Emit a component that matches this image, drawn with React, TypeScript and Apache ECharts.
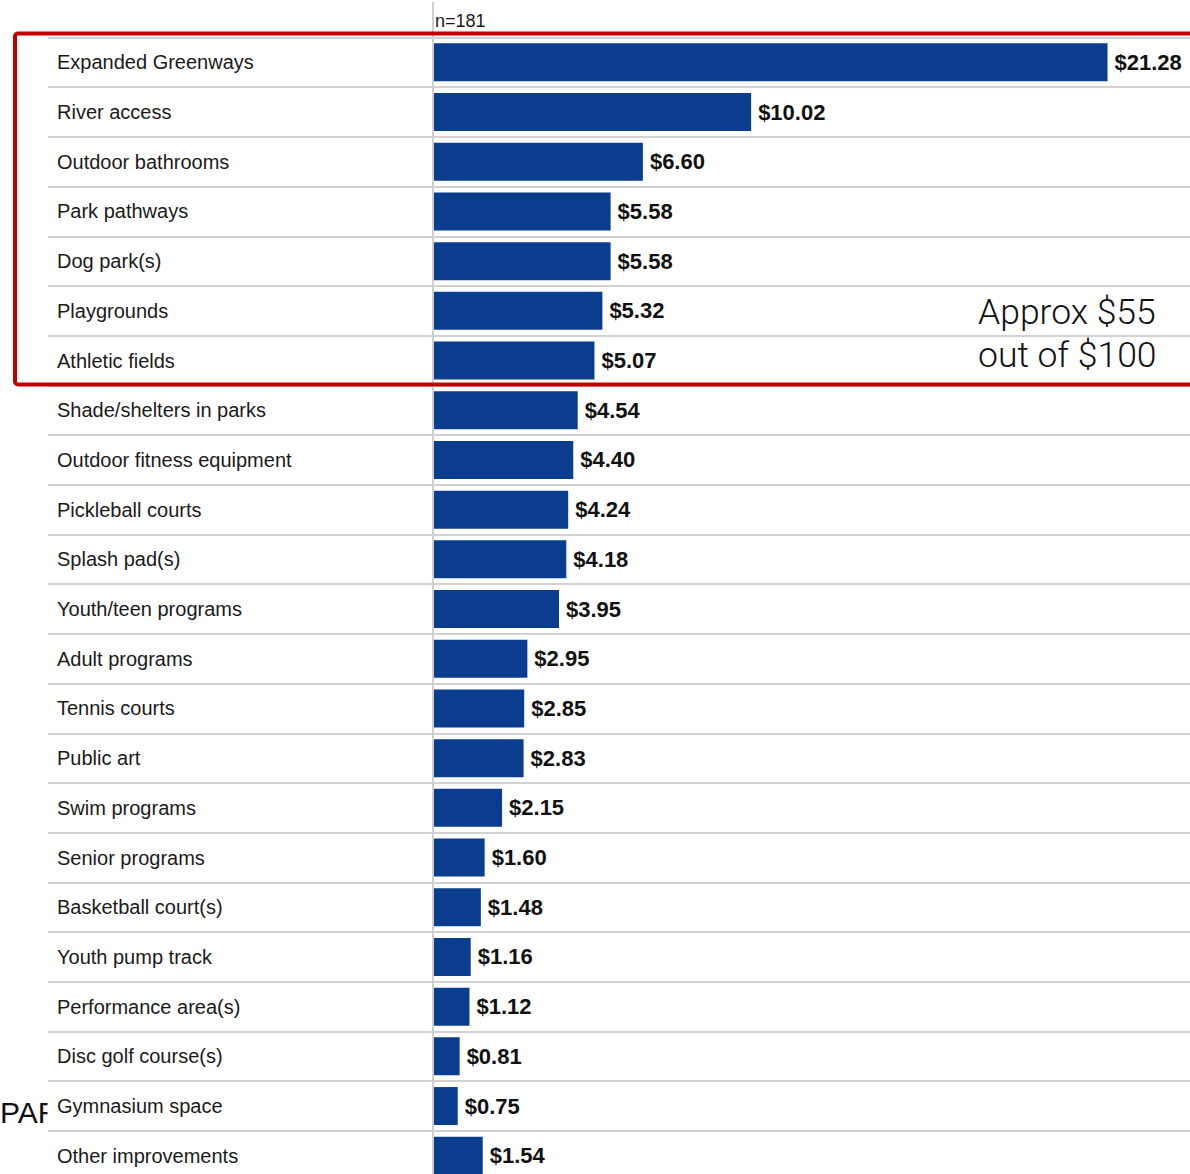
import React, { useEffect, useRef } from "react";
import * as echarts from "echarts";

const categories = [
  "Expanded Greenways",
  "River access",
  "Outdoor bathrooms",
  "Park pathways",
  "Dog park(s)",
  "Playgrounds",
  "Athletic fields",
  "Shade/shelters in parks",
  "Outdoor fitness equipment",
  "Pickleball courts",
  "Splash pad(s)",
  "Youth/teen programs",
  "Adult programs",
  "Tennis courts",
  "Public art",
  "Swim programs",
  "Senior programs",
  "Basketball court(s)",
  "Youth pump track",
  "Performance area(s)",
  "Disc golf course(s)",
  "Gymnasium space",
  "Other improvements",
];

const values = [
  21.28, 10.02, 6.6, 5.58, 5.58, 5.32, 5.07, 4.54, 4.4, 4.24, 4.18, 3.95, 2.95,
  2.85, 2.83, 2.15, 1.6, 1.48, 1.16, 1.12, 0.81, 0.75, 1.54,
];

const sampleNote = "n=181";
const calloutLines = ["Approx $55", "out of $100"];

export default function App() {
  const ref = useRef<HTMLDivElement>(null);

  useEffect(() => {
    if (!ref.current) return;
    const chart = echarts.init(ref.current, undefined, { renderer: "svg" });
    const font = "'Liberation Sans', Arial, Helvetica, sans-serif";
    const rowH = 49.7;
    const gridTop = 37.5;
    const sepColor = "#d2d2d2";
    chart.setOption({
      animation: false,
      backgroundColor: "#ffffff",
      grid: {
        left: 434,
        top: gridTop,
        width: 759.6,
        height: rowH * categories.length,
        containLabel: false,
      },
      xAxis: {
        type: "value",
        min: 0,
        max: 24,
        show: false,
        splitLine: { show: false },
      },
      yAxis: {
        type: "category",
        inverse: true,
        z: 20,
        data: categories,
        axisLine: { show: false },
        axisTick: {
          show: true,
          length: 386,
          interval: 0,
          lineStyle: { color: sepColor, width: 2 },
        },
        splitLine: {
          show: true,
          interval: 0,
          lineStyle: { color: sepColor, width: 2 },
        },
        axisLabel: {
          interval: 0,
          align: "left",
          margin: 377,
          fontSize: 20,
          color: "#1a1a1a",
          fontFamily: font,
        },
      },
      series: [
        {
          type: "bar",
          data: values,
          barWidth: 38,
          itemStyle: { color: "#0b3d8f" },
          label: {
            show: true,
            position: "right",
            distance: 7,
            formatter: (p: any) => "$" + Number(p.value).toFixed(2),
            fontSize: 22,
            fontWeight: "bold",
            color: "#111111",
            fontFamily: font,
          },
        },
      ],
      graphic: [
        {
          type: "line",
          z: 50,
          shape: { x1: 433, y1: 2, x2: 433, y2: 1200 },
          style: { stroke: "#cfcfcf", lineWidth: 2 },
        },
        {
          type: "text",
          z: 50,
          x: 435,
          y: 21,
          style: {
            text: sampleNote,
            fontSize: 18,
            fontFamily: font,
            fill: "#1a1a1a",
            verticalAlign: "middle",
            align: "left",
          },
        },
        {
          type: "rect",
          z: 100,
          shape: { x: 15, y: 33.5, width: 1200, height: 351, r: 3 },
          style: { fill: "transparent", stroke: "#c00000", lineWidth: 4 },
        },
        {
          type: "text",
          z: 100,
          x: 978,
          y: 312,
          style: {
            text: calloutLines[0],
            fontSize: 35.5,
            fontWeight: 300,
            fontFamily: "Roboto, 'Liberation Sans', sans-serif",
            fill: "#111111",
            verticalAlign: "middle",
            align: "left",
          },
        },
        {
          type: "text",
          z: 100,
          x: 978,
          y: 355,
          style: {
            text: calloutLines[1],
            fontSize: 35.5,
            fontWeight: 300,
            fontFamily: "Roboto, 'Liberation Sans', sans-serif",
            fill: "#111111",
            verticalAlign: "middle",
            align: "left",
          },
        },
        {
          type: "text",
          z: 5,
          x: 0,
          y: 1112,
          style: {
            text: "PAR",
            fontSize: 30,
            fontFamily: font,
            fill: "#111111",
            verticalAlign: "middle",
            align: "left",
          },
        },
        {
          type: "rect",
          z: 6,
          shape: { x: 47.5, y: 1090, width: 25, height: 38 },
          style: { fill: "#ffffff" },
        },
      ],
    });
    return () => chart.dispose();
  }, []);

  return (
    <div
      style={{
        position: "absolute",
        left: 0,
        top: 0,
        width: 1190,
        height: 1174,
        overflow: "hidden",
      }}
    >
      <div ref={ref} style={{ width: 1200, height: 1200 }} />
    </div>
  );
}
